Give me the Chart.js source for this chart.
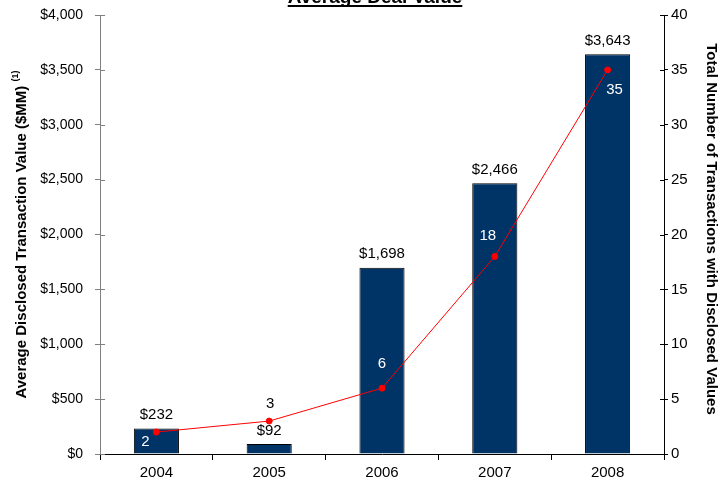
<!DOCTYPE html>
<html>
<head>
<meta charset="utf-8">
<script src="https://cdn.jsdelivr.net/npm/chart.js@4"></script>
<style>
  html, body { margin: 0; padding: 0; background: #fff; }
  #wrap { width: 718px; height: 481px; position: relative; }
</style>
</head>
<body>
<div id="wrap"><canvas id="dealChart"></canvas></div>
<script>
const years = ['2004', '2005', '2006', '2007', '2008'];
const avgDealValue = [232, 92, 1698, 2466, 3643];
const dealCount = [2, 3, 6, 18, 35];
const valueTicks = [0, 500, 1000, 1500, 2000, 2500, 3000, 3500, 4000];
const countTicks = [0, 5, 10, 15, 20, 25, 30, 35, 40];

// where each count label sits relative to its point, and its colour
const countLabelOffsets = [[-11, 10], [1, -17], [0, -24], [-7, -21], [7, 20]];
const countLabelColors = ['#fff', '#000', '#fff', '#fff', '#fff'];

const FONT = '"Liberation Sans", Arial, sans-serif';

function money(v) {
  return '$' + String(v).replace(/\B(?=(\d{3})+(?!\d))/g, ',');
}

const labelsPlugin = {
  id: 'labels',
  afterDatasetsDraw(chart) {
    const ctx = chart.ctx;
    ctx.save();
    ctx.font = '15px ' + FONT;
    ctx.textAlign = 'center';

    const bars = chart.getDatasetMeta(0).data;
    ctx.fillStyle = '#000';
    ctx.textBaseline = 'bottom';
    bars.forEach((bar, i) => {
      ctx.fillText(money(avgDealValue[i]), bar.x, bar.y - 6);
    });

    const points = chart.getDatasetMeta(1).data;
    ctx.textBaseline = 'middle';
    points.forEach((pt, i) => {
      const [dx, dy] = countLabelOffsets[i];
      ctx.fillStyle = countLabelColors[i];
      ctx.fillText(String(dealCount[i]), pt.x + dx, pt.y + dy);
    });
    ctx.restore();
  }
};

// titles, axis captions and the small inner tick marks
const decorPlugin = {
  id: 'decor',
  afterDraw(chart) {
    const ctx = chart.ctx;
    const area = chart.chartArea;
    const y = chart.scales.y, y1 = chart.scales.y1;
    ctx.save();

    // inner halves of the vertical axis ticks
    ctx.lineWidth = 1;
    ctx.strokeStyle = '#808080';
    valueTicks.forEach(v => {
      const py = Math.round(y.getPixelForValue(v)) + 0.5;
      ctx.beginPath(); ctx.moveTo(area.left, py); ctx.lineTo(area.left + 5, py); ctx.stroke();
    });
    ctx.strokeStyle = '#000';
    countTicks.forEach(v => {
      const py = Math.round(y1.getPixelForValue(v)) + 0.5;
      ctx.beginPath(); ctx.moveTo(area.right, py); ctx.lineTo(area.right - 4, py); ctx.stroke();
    });

    // chart title, underlined
    ctx.fillStyle = '#000';
    ctx.font = 'bold 19px ' + FONT;
    ctx.textAlign = 'center';
    ctx.textBaseline = 'alphabetic';
    const title = 'Average Deal Value';
    const tx = 375, ty = 3;
    ctx.fillText(title, tx, ty);
    const tw = ctx.measureText(title).width;
    ctx.fillRect(tx - tw / 2, ty + 2, tw, 2);

    // left caption with footnote mark
    ctx.save();
    ctx.translate(22, (area.top + area.bottom) / 2);
    ctx.rotate(-Math.PI / 2);
    const main = 'Average Disclosed Transaction Value ($MM) ';
    const sup = '(1)';
    ctx.font = 'bold 15px ' + FONT;
    const mw = ctx.measureText(main).width;
    ctx.font = 'bold 9px ' + FONT;
    const sw = ctx.measureText(sup).width;
    const start = -(mw + sw) / 2;
    ctx.textAlign = 'left';
    ctx.textBaseline = 'middle';
    ctx.font = 'bold 15px ' + FONT;
    ctx.fillText(main, start, 0);
    ctx.font = 'bold 9px ' + FONT;
    ctx.fillText(sup, start + mw, -6);
    ctx.restore();

    // right caption
    ctx.save();
    ctx.translate(711, 229);
    ctx.rotate(Math.PI / 2);
    ctx.font = 'bold 15px ' + FONT;
    ctx.textAlign = 'center';
    ctx.textBaseline = 'middle';
    ctx.fillText('Total Number of Transactions with Disclosed Values', 0, 0);
    ctx.restore();

    ctx.restore();
  }
};

const ctx = document.getElementById('dealChart').getContext('2d');
new Chart(ctx, {
  data: {
    labels: years,
    datasets: [
      {
        type: 'bar',
        data: avgDealValue,
        yAxisID: 'y',
        backgroundColor: '#003366',
        borderColor: '#000',
        borderWidth: 1,
        barPercentage: 0.4,
        categoryPercentage: 1,
        order: 2
      },
      {
        type: 'line',
        data: dealCount,
        yAxisID: 'y1',
        borderColor: '#ff0000',
        borderWidth: 1,
        pointBackgroundColor: '#ff0000',
        pointBorderColor: '#ff0000',
        pointRadius: 3,
        tension: 0,
        order: 1
      }
    ]
  },
  options: {
    responsive: true,
    maintainAspectRatio: false,
    animation: false,
    devicePixelRatio: 1,
    layout: { padding: { top: 15, left: 0, right: 0, bottom: 0 } },
    plugins: {
      legend: { display: false },
      tooltip: { enabled: false }
    },
    scales: {
      x: {
        position: 'bottom',
        grid: { drawOnChartArea: false, tickLength: 6, color: '#000' },
        border: { color: '#000' },
        ticks: { color: '#000', font: { family: FONT, size: 15 }, padding: 4 },
        afterFit: s => { s.height = 27; }
      },
      y: {
        position: 'left',
        min: 0,
        max: 4000,
        afterBuildTicks: s => { s.ticks = valueTicks.map(v => ({ value: v })); },
        grid: { drawOnChartArea: false, tickLength: 5, color: '#808080' },
        border: { color: '#808080' },
        ticks: { color: '#000', font: { family: FONT, size: 14 }, padding: 12, callback: v => money(v) },
        afterFit: s => { s.width = 100; s.paddingTop = 0; s.paddingBottom = 0; }
      },
      y1: {
        position: 'right',
        min: 0,
        max: 40,
        afterBuildTicks: s => { s.ticks = countTicks.map(v => ({ value: v })); },
        grid: { drawOnChartArea: false, tickLength: 4, color: '#000' },
        border: { color: '#000' },
        ticks: { color: '#000', font: { family: FONT, size: 15 }, padding: 3 },
        afterFit: s => { s.width = 54; s.paddingTop = 0; s.paddingBottom = 0; }
      }
    }
  },
  plugins: [labelsPlugin, decorPlugin]
});
</script>
</body>
</html>
